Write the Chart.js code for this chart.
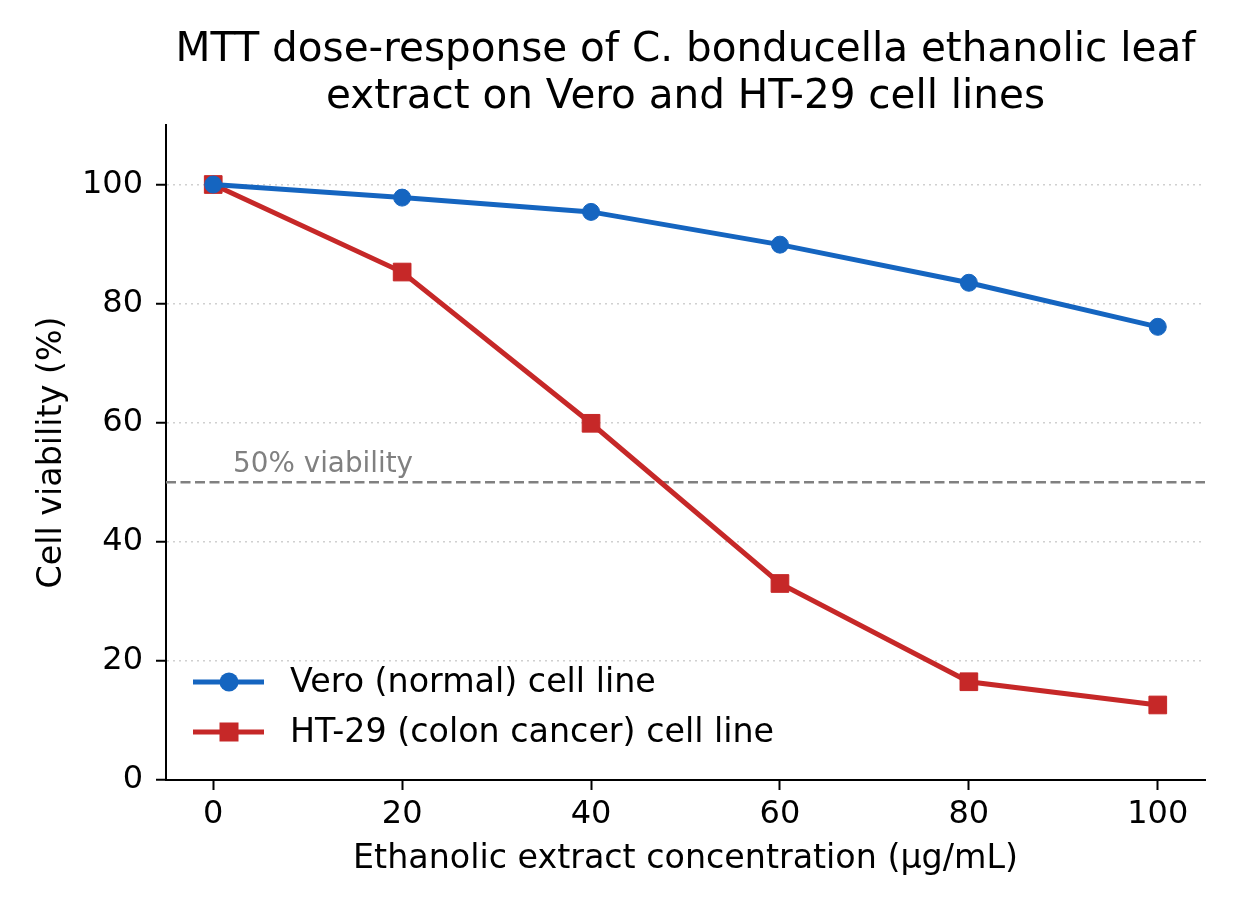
<!DOCTYPE html>
<html>
<head>
<meta charset="utf-8">
<script src="https://cdn.jsdelivr.net/npm/chart.js@4.4.1/dist/chart.umd.min.js"></script>
<style>
  html, body { margin: 0; padding: 0; background: #fff; }
  #mtt-chart { display: block; }
</style>
</head>
<body>
<canvas id="mtt-chart" width="1240" height="919"></canvas>
<script>
// values
var concentrations = [0, 20, 40, 60, 80, 100];
var veroViability = [100, 97.8, 95.4, 89.9, 83.5, 76.1];
var ht29Viability = [100, 85.3, 59.9, 33.0, 16.5, 12.6];
var xTickValues = [0, 20, 40, 60, 80, 100];
var yTickValues = [0, 20, 40, 60, 80, 100];
var thresholdValue = 50;
var thresholdLabel = "50% viability";

var FONT = "'DejaVu Sans', sans-serif";
var BLUE = "#1565C0";
var RED = "#C62828";

function toPoints(xs, ys) {
	return xs.map(function(x, i) { return { x: x, y: ys[i] }; });
}

var seriesList = [
	{ label: "Vero (normal) cell line", values: veroViability, color: BLUE, style: "circle", radius: 8.5 },
	{ label: "HT-29 (colon cancer) cell line", values: ht29Viability, color: RED, style: "rect", radius: 12.5 }
];

// dashed 50% line with its label, drawn under the series
var thresholdPlugin = {
	id: "threshold",
	beforeDatasetsDraw: function(chart) {
		var ctx = chart.ctx, area = chart.chartArea;
		var xs = chart.scales.x, ys = chart.scales.y;
		var py = ys.getPixelForValue(thresholdValue);
		ctx.save();
		ctx.strokeStyle = "#808080";
		ctx.lineWidth = 2.5;
		ctx.setLineDash([10, 4.5]);
		ctx.beginPath();
		ctx.moveTo(area.left, py);
		ctx.lineTo(area.right, py);
		ctx.stroke();
		ctx.setLineDash([]);
		ctx.fillStyle = "#808080";
		ctx.font = "27.8px " + FONT;
		ctx.textAlign = "left";
		ctx.textBaseline = "alphabetic";
		ctx.fillText(thresholdLabel, xs.getPixelForValue(2.1), ys.getPixelForValue(51.8));
		ctx.restore();
	}
};

// matplotlib-like legend inside the lower left of the plot
var innerLegend = {
	id: "innerLegend",
	afterDraw: function(chart) {
		var ctx = chart.ctx, area = chart.chartArea;
		ctx.save();
		ctx.font = "33.3px " + FONT;
		ctx.textBaseline = "middle";
		ctx.textAlign = "left";
		seriesList.forEach(function(s, i) {
			var y = area.bottom - 98 + i * 50;
			var x0 = area.left + 27;
			ctx.strokeStyle = s.color;
			ctx.lineWidth = 5;
			ctx.beginPath();
			ctx.moveTo(x0, y);
			ctx.lineTo(x0 + 71, y);
			ctx.stroke();
			ctx.fillStyle = s.color;
			if (s.style === "circle") {
				ctx.beginPath();
				ctx.arc(x0 + 36, y, 9.5, 0, Math.PI * 2);
				ctx.fill();
			} else {
				ctx.fillRect(x0 + 36 - 9.5, y - 9.5, 19, 19);
			}
			ctx.fillStyle = "#000";
			ctx.fillText(s.label, area.left + 124, y + 1);
		});
		ctx.restore();
	}
};

var datasets = seriesList.map(function(s) {
	return {
		label: s.label,
		data: toPoints(concentrations, s.values),
		borderColor: s.color,
		backgroundColor: s.color,
		borderWidth: 5,
		pointStyle: s.style,
		pointRadius: s.radius,
		pointBorderWidth: 1,
		pointBackgroundColor: s.color,
		pointBorderColor: s.color,
		pointHoverRadius: s.radius,
		tension: 0,
		fill: false
	};
});

new Chart(document.getElementById("mtt-chart"), {
	type: "line",
	data: { datasets: datasets },
	plugins: [thresholdPlugin, innerLegend],
	options: {
		responsive: false,
		animation: false,
		devicePixelRatio: 1,
		layout: { padding: { left: 0, right: 35, top: 27, bottom: 0 } },
		plugins: {
			legend: { display: false },
			tooltip: { enabled: false },
			title: {
				display: true,
				fullSize: false,
				text: ["MTT dose-response of C. bonducella ethanolic leaf", "extract on Vero and HT-29 cell lines"],
				color: "#000",
				font: { family: FONT, size: 40.5, weight: "normal", lineHeight: 1.16 },
				padding: { top: 0, bottom: 4 }
			}
		},
		scales: {
			x: {
				type: "linear",
				min: -5,
				max: 105,
				afterBuildTicks: function(scale) {
					scale.ticks = xTickValues.map(function(v) { return { value: v }; });
				},
				afterFit: function(scale) { scale.height = 139; },
				grid: {
					display: true,
					drawOnChartArea: false,
					drawTicks: true,
					tickLength: 10,
					tickWidth: 2,
					tickColor: "#000",
					color: "#000"
				},
				border: { display: true, color: "#000", width: 2 },
				ticks: {
					color: "#000",
					padding: 5,
					maxRotation: 0,
					font: { family: FONT, size: 32, lineHeight: 1.2 }
				},
				title: {
					display: true,
					text: "Ethanolic extract concentration (µg/mL)",
					color: "#000",
					font: { family: FONT, size: 33.3, lineHeight: 1.2 },
					padding: { top: 0, bottom: 40 }
				}
			},
			y: {
				type: "linear",
				min: 0,
				max: 110,
				afterBuildTicks: function(scale) {
					scale.ticks = yTickValues.map(function(v) { return { value: v }; });
				},
				afterFit: function(scale) { scale.width = 166; },
				grid: {
					display: true,
					drawOnChartArea: true,
					drawTicks: true,
					tickLength: 10,
					tickWidth: 2,
					tickColor: "#000",
					tickBorderDash: [],
					lineWidth: 1.5,
					color: function(c) {
						return c.tick && c.tick.value === 0 ? "rgba(0,0,0,0)" : "#d0d0d0";
					}
				},
				border: { display: true, color: "#000", width: 2, dash: [2, 4] },
				ticks: {
					color: "#000",
					padding: 13,
					font: { family: FONT, size: 32, lineHeight: 1.2 }
				},
				title: {
					display: true,
					text: "Cell viability (%)",
					color: "#000",
					font: { family: FONT, size: 33.3, lineHeight: 1.2 },
					padding: { top: 32, bottom: 0 }
				}
			}
		}
	}
});
</script>
</body>
</html>
